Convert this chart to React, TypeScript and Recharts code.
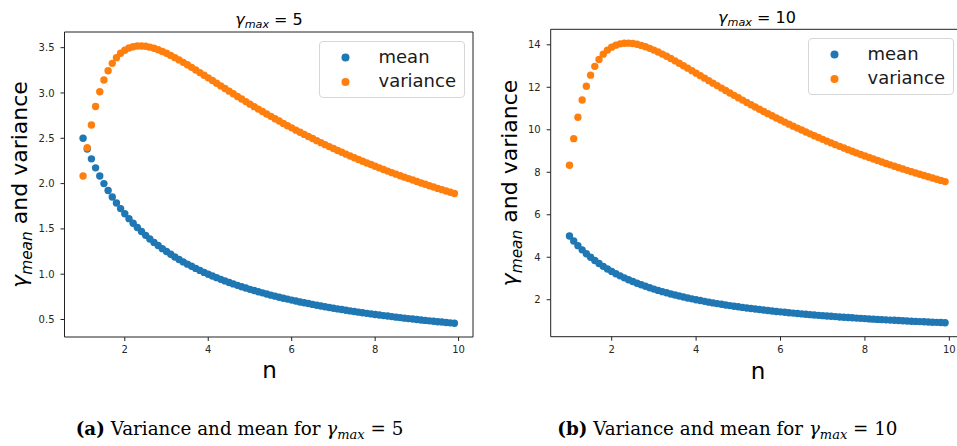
import React from 'react';
import { ScatterChart, Scatter, XAxis, YAxis, Legend, ReferenceLine } from 'recharts';

// n values (x)
const N = [
  1.0, 1.1, 1.2, 1.3, 1.4, 1.5, 1.6, 1.7, 1.8, 1.9,
  2.0, 2.1, 2.2, 2.3, 2.4, 2.5, 2.6, 2.7, 2.8, 2.9,
  3.0, 3.1, 3.2, 3.3, 3.4, 3.5, 3.6, 3.7, 3.8, 3.9,
  4.0, 4.1, 4.2, 4.3, 4.4, 4.5, 4.6, 4.7, 4.8, 4.9,
  5.0, 5.1, 5.2, 5.3, 5.4, 5.5, 5.6, 5.7, 5.8, 5.9,
  6.0, 6.1, 6.2, 6.3, 6.4, 6.5, 6.6, 6.7, 6.8, 6.9,
  7.0, 7.1, 7.2, 7.3, 7.4, 7.5, 7.6, 7.7, 7.8, 7.9,
  8.0, 8.1, 8.2, 8.3, 8.4, 8.5, 8.6, 8.7, 8.8, 8.9,
  9.0, 9.1, 9.2, 9.3, 9.4, 9.5, 9.6, 9.7, 9.8, 9.9,
];

// gamma_max = 5
const MEAN_G5 = [
  2.5, 2.381, 2.273, 2.174, 2.083, 2.0, 1.923, 1.852, 1.786, 1.724,
  1.667, 1.613, 1.563, 1.515, 1.471, 1.429, 1.389, 1.351, 1.316, 1.282,
  1.25, 1.22, 1.19, 1.163, 1.136, 1.111, 1.087, 1.064, 1.042, 1.02,
  1.0, 0.98, 0.962, 0.943, 0.926, 0.909, 0.893, 0.877, 0.862, 0.847,
  0.833, 0.82, 0.806, 0.794, 0.781, 0.769, 0.758, 0.746, 0.735, 0.725,
  0.714, 0.704, 0.694, 0.685, 0.676, 0.667, 0.658, 0.649, 0.641, 0.633,
  0.625, 0.617, 0.61, 0.602, 0.595, 0.588, 0.581, 0.575, 0.568, 0.562,
  0.556, 0.549, 0.543, 0.538, 0.532, 0.526, 0.521, 0.515, 0.51, 0.505,
  0.5, 0.495, 0.49, 0.485, 0.481, 0.476, 0.472, 0.467, 0.463, 0.459,
];
const VAR_G5 = [
  2.083, 2.396, 2.647, 2.85, 3.013, 3.143, 3.246, 3.327, 3.39, 3.438,
  3.472, 3.496, 3.511, 3.518, 3.519, 3.515, 3.506, 3.493, 3.477, 3.458,
  3.438, 3.415, 3.39, 3.365, 3.338, 3.311, 3.283, 3.254, 3.225, 3.196,
  3.167, 3.137, 3.108, 3.078, 3.049, 3.02, 2.991, 2.962, 2.933, 2.905,
  2.877, 2.849, 2.822, 2.795, 2.768, 2.742, 2.716, 2.69, 2.664, 2.639,
  2.615, 2.59, 2.567, 2.543, 2.52, 2.497, 2.474, 2.452, 2.43, 2.408,
  2.387, 2.366, 2.346, 2.325, 2.305, 2.286, 2.266, 2.247, 2.228, 2.21,
  2.191, 2.173, 2.156, 2.138, 2.121, 2.104, 2.087, 2.071, 2.055, 2.039,
  2.023, 2.007, 1.992, 1.977, 1.962, 1.947, 1.933, 1.918, 1.904, 1.89,
];

// gamma_max = 10
const MEAN_G10 = [
  5.0, 4.762, 4.545, 4.348, 4.167, 4.0, 3.846, 3.704, 3.571, 3.448,
  3.333, 3.226, 3.125, 3.03, 2.941, 2.857, 2.778, 2.703, 2.632, 2.564,
  2.5, 2.439, 2.381, 2.326, 2.273, 2.222, 2.174, 2.128, 2.083, 2.041,
  2.0, 1.961, 1.923, 1.887, 1.852, 1.818, 1.786, 1.754, 1.724, 1.695,
  1.667, 1.639, 1.613, 1.587, 1.563, 1.538, 1.515, 1.493, 1.471, 1.449,
  1.429, 1.408, 1.389, 1.37, 1.351, 1.333, 1.316, 1.299, 1.282, 1.266,
  1.25, 1.235, 1.22, 1.205, 1.19, 1.176, 1.163, 1.149, 1.136, 1.124,
  1.111, 1.099, 1.087, 1.075, 1.064, 1.053, 1.042, 1.031, 1.02, 1.01,
  1.0, 0.99, 0.98, 0.971, 0.962, 0.952, 0.943, 0.935, 0.926, 0.917,
];
const VAR_G10 = [
  8.333, 9.582, 10.589, 11.399, 12.051, 12.571, 12.985, 13.31, 13.561, 13.75,
  13.889, 13.984, 14.044, 14.073, 14.077, 14.059, 14.023, 13.972, 13.908, 13.834,
  13.75, 13.659, 13.562, 13.46, 13.353, 13.244, 13.131, 13.017, 12.901, 12.784,
  12.667, 12.549, 12.431, 12.313, 12.196, 12.079, 11.963, 11.848, 11.733, 11.62,
  11.508, 11.397, 11.287, 11.179, 11.072, 10.966, 10.862, 10.759, 10.658, 10.558,
  10.459, 10.362, 10.266, 10.172, 10.079, 9.987, 9.897, 9.808, 9.72, 9.634,
  9.549, 9.465, 9.382, 9.301, 9.221, 9.142, 9.065, 8.988, 8.913, 8.839,
  8.765, 8.693, 8.622, 8.553, 8.484, 8.416, 8.349, 8.283, 8.218, 8.154,
  8.091, 8.029, 7.967, 7.907, 7.847, 7.789, 7.731, 7.674, 7.617, 7.562,
];

const X_TICKS = [2, 4, 6, 8, 10];
const X_DOMAIN: [number, number] = [0.555, 10.345];
const Y_TICKS_G5 = [0.5, 1.0, 1.5, 2.0, 2.5, 3.0, 3.5];
const Y_TICKS_G10 = [2, 4, 6, 8, 10, 12, 14];
const SERIES_NAMES = ['mean', 'variance'];
const COLORS = ['#1f77b4', '#ff7f0e'];

const toPoints = (ys: number[]) => N.map((x, i) => ({ x, y: ys[i] }));

const FONT = '"DejaVu Sans", sans-serif';
const SERIF = '"DejaVu Serif", serif';
const SPINE = '#222';
const TICK_TEXT = '#262626';

const Dot = (props: any) => (
  <circle cx={props.cx} cy={props.cy} r={3.7} fill={props.fill} />
);

const LegendBox = (props: any) => {
  const payload = props.payload || [];
  return (
    <div
      style={{
        width: 146,
        height: 57,
        boxSizing: 'border-box',
        border: '1px solid #d6d6d6',
        borderRadius: 4,
        background: 'rgba(255,255,255,0.8)',
      }}
    >
      <svg width={144} height={55} style={{ display: 'block' }}>
        {payload.map((p: any, i: number) => (
          <g key={i}>
            <circle cx={25.5} cy={15.5 + i * 24.5} r={4} fill={p.color} />
            <text
              x={58.5}
              y={20.5 + i * 24.5}
              fontSize={18}
              fontFamily={FONT}
              fill="#1a1a1a"
            >
              {p.value}
            </text>
          </g>
        ))}
      </svg>
    </div>
  );
};

type PanelProps = {
  left: number;
  width: number;
  height: number;
  top: number;
  right: number;
  yAxisWidth: number;
  xAxisHeight: number;
  yDomain: [number, number];
  yTicks: number[];
  yFmt: (v: number) => string;
  mean: number[];
  variance: number[];
  legendLeft: number;
  legendTop: number;
};

const Panel = (p: PanelProps) => (
  <div style={{ position: 'absolute', left: p.left, top: 0 }}>
    <ScatterChart
      width={p.width}
      height={p.height}
      margin={{ top: p.top, right: p.right, bottom: 0, left: 0 }}
    >
      <XAxis
        type="number"
        dataKey="x"
        domain={X_DOMAIN}
        ticks={X_TICKS}
        allowDataOverflow
        height={p.xAxisHeight}
        tickSize={4}
        tickMargin={5}
        stroke={SPINE}
        tick={{ fill: TICK_TEXT, fontSize: 10, fontFamily: FONT }}
      />
      <YAxis
        type="number"
        dataKey="y"
        domain={p.yDomain}
        ticks={p.yTicks}
        allowDataOverflow
        width={p.yAxisWidth}
        tickSize={4}
        tickMargin={6}
        stroke={SPINE}
        tickFormatter={p.yFmt}
        tick={{ fill: TICK_TEXT, fontSize: 10, fontFamily: FONT }}
      />
      <ReferenceLine y={p.yDomain[1]} stroke={SPINE} strokeWidth={1} ifOverflow="visible" />
      <ReferenceLine x={X_DOMAIN[1]} stroke={SPINE} strokeWidth={1} ifOverflow="visible" />
      <Scatter
        name={SERIES_NAMES[0]}
        data={toPoints(p.mean)}
        fill={COLORS[0]}
        shape={Dot}
        isAnimationActive={false}
      />
      <Scatter
        name={SERIES_NAMES[1]}
        data={toPoints(p.variance)}
        fill={COLORS[1]}
        shape={Dot}
        isAnimationActive={false}
      />
      <Legend
        layout="vertical"
        align="center"
        verticalAlign="middle"
        content={LegendBox}
        wrapperStyle={{ left: p.legendLeft, top: p.legendTop, width: 146, height: 57 }}
      />
    </ScatterChart>
  </div>
);

const Title = ({ x, y, value }: { x: number; y: number; value: string }) => (
  <text x={x} y={y} textAnchor="middle" fontSize={16} fontFamily={FONT} fill="#000">
    <tspan fontStyle="italic">γ</tspan>
    <tspan fontStyle="italic" fontSize={11.2} dy={3}>max</tspan>
    <tspan dy={-3}>{' = ' + value}</tspan>
  </text>
);

const YLabel = ({ x, y }: { x: number; y: number }) => (
  <text
    transform={`translate(${x},${y}) rotate(-90)`}
    textAnchor="middle"
    fontSize={22}
    fontFamily={FONT}
    fill="#000"
  >
    <tspan fontStyle="italic">γ</tspan>
    <tspan fontStyle="italic" fontSize={15.4} dy={5}>mean</tspan>
    <tspan dy={-5}> and variance</tspan>
  </text>
);

const Caption = ({ x, y, tag, value }: { x: number; y: number; tag: string; value: string }) => (
  <text x={x} y={y} fontSize={18.3} fontFamily={SERIF} fill="#000">
    <tspan fontWeight="bold">{tag}</tspan>
    <tspan> Variance and mean for </tspan>
    <tspan fontStyle="italic">γ</tspan>
    <tspan fontStyle="italic" fontSize={13} dy={4}>max</tspan>
    <tspan dy={-4}>{' = ' + value}</tspan>
  </text>
);

export default function App() {
  return (
    <div
      style={{
        position: 'absolute',
        left: 0,
        top: 0,
        width: 957,
        height: 446,
        overflow: 'hidden',
        background: '#fff',
      }}
    >
      <Panel
        left={0}
        width={480}
        height={380}
        top={32}
        right={7}
        yAxisWidth={64.5}
        xAxisHeight={43}
        yDomain={[0.307, 3.673]}
        yTicks={Y_TICKS_G5}
        yFmt={(v: number) => v.toFixed(1)}
        mean={MEAN_G5}
        variance={VAR_G5}
        legendLeft={319}
        legendTop={41}
      />
      <Panel
        left={480}
        width={490}
        height={380}
        top={29.3}
        right={6.1}
        yAxisWidth={70.7}
        xAxisHeight={43.3}
        yDomain={[0.26, 14.73]}
        yTicks={Y_TICKS_G10}
        yFmt={(v: number) => String(v)}
        mean={MEAN_G10}
        variance={VAR_G10}
        legendLeft={328}
        legendTop={38}
      />
      <svg
        width={957}
        height={446}
        style={{ position: 'absolute', left: 0, top: 0, pointerEvents: 'none' }}
      >
        <Title x={269} y={25} value="5" />
        <Title x={757} y={22.7} value="10" />
        <YLabel x={27} y={184.5} />
        <YLabel x={516.5} y={183} />
        <text x={269.5} y={378} textAnchor="middle" fontSize={23} fontFamily={FONT} fill="#000">n</text>
        <text x={758} y={379} textAnchor="middle" fontSize={23} fontFamily={FONT} fill="#000">n</text>
        <Caption x={75.7} y={435} tag="(a)" value="5" />
        <Caption x={557.3} y={435} tag="(b)" value="10" />
      </svg>
    </div>
  );
}
